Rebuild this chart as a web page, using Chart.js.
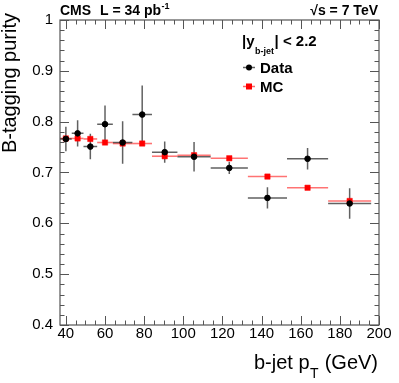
<!DOCTYPE html>
<html><head><meta charset="utf-8">
<script src="https://cdn.jsdelivr.net/npm/chart.js@4.4.0/dist/chart.umd.min.js"></script>
<style>html,body{margin:0;padding:0;background:#fff;overflow:hidden}#wrap{width:399px;height:383px;position:relative}</style>
</head><body><div id="wrap"><canvas id="c" width="399" height="383"></canvas></div>
<script>
// ---- data ----
const binLow    = [37, 43, 49, 56, 64, 74, 84, 97, 114, 133, 153, 174];
const binHigh   = [43, 49, 56, 64, 74, 84, 97, 114, 133, 153, 174, 196];
const binCenter = [40, 46, 52.5, 60, 69, 79, 90.5, 105.5, 123.5, 143, 163.5, 185];
const dataPurity = [0.766, 0.777, 0.751, 0.795, 0.759, 0.814, 0.740, 0.731, 0.709, 0.650, 0.727, 0.639];
const dataError  = [0.024, 0.026, 0.025, 0.037, 0.042, 0.057, 0.021, 0.029, 0.012, 0.021, 0.021, 0.030];
const mcPurity   = [0.767, 0.767, 0.766, 0.759, 0.757, 0.757, 0.732, 0.734, 0.728, 0.692, 0.670, 0.644];
const xTicks = [40, 60, 80, 100, 120, 140, 160, 180, 200];
const yTicks = [0.4, 0.5, 0.6, 0.7, 0.8, 0.9, 1.0];
const xMinorStep = 5, yMinorStep = 0.02;

const FONT = '"Liberation Sans", Arial, Helvetica, sans-serif';

const rootStyle = {
  id: 'rootStyle',
  beforeDatasetsDraw(chart) {
    const {ctx, scales: {x, y}} = chart;
    ctx.save();
    // MC bin-width lines
    ctx.strokeStyle = 'rgba(255,0,0,0.55)';
    ctx.lineWidth = 1.6;
    for (let i = 0; i < mcPurity.length; i++) {
      const py = y.getPixelForValue(mcPurity[i]);
      ctx.beginPath();
      ctx.moveTo(x.getPixelForValue(Math.max(binLow[i], x.min)), py);
      ctx.lineTo(x.getPixelForValue(binHigh[i]), py);
      ctx.stroke();
    }
    // data error bars
    ctx.strokeStyle = 'rgba(0,0,0,0.62)';
    ctx.lineWidth = 1.5;
    for (let i = 0; i < dataPurity.length; i++) {
      const py = y.getPixelForValue(dataPurity[i]);
      const px = x.getPixelForValue(binCenter[i]);
      ctx.beginPath();
      ctx.moveTo(x.getPixelForValue(Math.max(binLow[i], x.min)), py);
      ctx.lineTo(x.getPixelForValue(binHigh[i]), py);
      ctx.moveTo(px, y.getPixelForValue(dataPurity[i] - dataError[i]));
      ctx.lineTo(px, y.getPixelForValue(dataPurity[i] + dataError[i]));
      ctx.stroke();
    }
    ctx.restore();
  },
  afterDatasetsDraw(chart) {
    const {ctx, chartArea: a, scales: {x, y}} = chart;
    ctx.save();
    // frame
    ctx.strokeStyle = '#555';
    ctx.lineWidth = 1.2;
    ctx.strokeRect(a.left, a.top, a.right - a.left, a.bottom - a.top);
    // x ticks (bottom & top, inward)
    ctx.beginPath();
    for (let v = Math.ceil(x.min / xMinorStep) * xMinorStep; v <= x.max + 1e-9; v += xMinorStep) {
      const px = Math.round(x.getPixelForValue(v)) + 0.5;
      const len = (v % 20 === 0) ? 9 : 4.5;
      ctx.moveTo(px, a.bottom); ctx.lineTo(px, a.bottom - len);
      ctx.moveTo(px, a.top); ctx.lineTo(px, a.top + len);
    }
    // y ticks (left & right, inward)
    for (let k = Math.round(y.min / yMinorStep); k <= Math.round(y.max / yMinorStep); k++) {
      const v = k * yMinorStep;
      const py = Math.round(y.getPixelForValue(v)) + 0.5;
      const len = (k % 5 === 0) ? 9 : 4.5;
      ctx.moveTo(a.left, py); ctx.lineTo(a.left + len, py);
      ctx.moveTo(a.right, py); ctx.lineTo(a.right - len, py);
    }
    ctx.lineWidth = 1;
    ctx.stroke();

    ctx.fillStyle = '#000';
    ctx.textBaseline = 'alphabetic';
    // header
    ctx.font = 'bold 14px ' + FONT;
    ctx.textAlign = 'left';
    ctx.fillText('CMS', 60, 15);
    ctx.fillText('L = 34 pb', 100, 15);
    const w1 = ctx.measureText('L = 34 pb').width;
    ctx.font = 'bold 9px ' + FONT;
    ctx.fillText('-1', 100 + w1 + 0.5, 9);
    ctx.font = 'bold 14px ' + FONT;
    ctx.textAlign = 'right';
    ctx.fillText('\u221As = 7 TeV', 378, 15);

    // legend header |y_b-jet| < 2.2
    ctx.textAlign = 'left';
    ctx.font = 'bold 15px ' + FONT;
    ctx.fillText('|y', 242, 46);
    let cx = 242 + ctx.measureText('|y').width + 0.5;
    ctx.font = 'bold 9px ' + FONT;
    ctx.fillText('b-jet', cx, 54);
    cx += ctx.measureText('b-jet').width + 0.5;
    ctx.font = 'bold 15px ' + FONT;
    ctx.fillText('| < 2.2', cx, 46);

    // legend entries
    ctx.strokeStyle = 'rgba(0,0,0,0.62)'; ctx.lineWidth = 1.5;
    ctx.beginPath(); ctx.moveTo(243, 67.5); ctx.lineTo(255, 67.5); ctx.stroke();
    ctx.beginPath(); ctx.arc(249, 67.5, 3, 0, Math.PI * 2); ctx.fill();
    ctx.strokeStyle = 'rgba(255,0,0,0.6)';
    ctx.beginPath(); ctx.moveTo(243, 86.5); ctx.lineTo(255, 86.5); ctx.stroke();
    ctx.fillStyle = '#ff0000'; ctx.fillRect(246, 83.5, 6, 6);
    ctx.fillStyle = '#000';
    ctx.font = 'bold 15px ' + FONT;
    ctx.fillText('Data', 260, 73);
    ctx.fillText('MC', 260, 92);

    // x title: b-jet p_T (GeV)
    ctx.font = '20px ' + FONT;
    const t1 = 'b-jet p', t3 = ' (GeV)';
    const w1b = ctx.measureText(t1).width, w3 = ctx.measureText(t3).width;
    ctx.font = '14px ' + FONT;
    const w2 = ctx.measureText('T').width;
    let sx = 378 - (w1b + w2 + w3 + 1);
    ctx.font = '20px ' + FONT;
    ctx.fillText(t1, sx, 369);
    ctx.font = '14px ' + FONT;
    ctx.fillText('T', sx + w1b + 0.5, 378);
    ctx.font = '20px ' + FONT;
    ctx.fillText(t3, sx + w1b + w2 + 1, 369);

    // y title
    ctx.save();
    ctx.translate(16, 13);
    ctx.rotate(-Math.PI / 2);
    ctx.textAlign = 'right';
    ctx.font = '20px ' + FONT;
    ctx.fillText('B-tagging purity', 0, 0);
    ctx.restore();

    ctx.restore();
  }
};

new Chart(document.getElementById('c'), {
  type: 'scatter',
  data: {
    datasets: [
      {
        label: 'Data',
        data: binCenter.map((v, i) => ({x: v, y: dataPurity[i]})),
        pointStyle: 'circle', pointRadius: 2.8, borderWidth: 1,
        backgroundColor: '#000', borderColor: '#000', order: 0
      },
      {
        label: 'MC',
        data: binCenter.map((v, i) => ({x: v, y: mcPurity[i]})),
        pointStyle: 'rect', pointRadius: 3.8, borderWidth: 0.5,
        backgroundColor: '#ff0000', borderColor: '#ff0000', order: 1
      }
    ]
  },
  options: {
    responsive: false,
    animation: false,
    devicePixelRatio: 1,
    layout: {padding: {left: 0, top: 20, right: 20, bottom: 0}},
    plugins: {legend: {display: false}, tooltip: {enabled: false}},
    scales: {
      x: {
        type: 'linear', min: 37, max: 200,
        grid: {display: false, drawTicks: false},
        border: {display: false},
        afterBuildTicks(s) { s.ticks = xTicks.map(v => ({value: v})); },
        afterFit(s) { s.height = 58; },
        ticks: {color: '#000', padding: 0, maxRotation: 0, autoSkip: false,
                font: {family: FONT, size: 15}, callback: v => String(v)}
      },
      y: {
        type: 'linear', min: 0.4, max: 1.0,
        grid: {display: false, drawTicks: false},
        border: {display: false},
        afterBuildTicks(s) { s.ticks = yTicks.map(v => ({value: v})); },
        afterFit(s) { s.width = 60; },
        ticks: {color: '#000', padding: 7, autoSkip: false,
                font: {family: FONT, size: 15},
                callback: v => (Math.abs(v - 1) < 1e-9 ? '1' : v.toFixed(1))}
      }
    }
  },
  plugins: [rootStyle]
});
</script>
</body></html>
